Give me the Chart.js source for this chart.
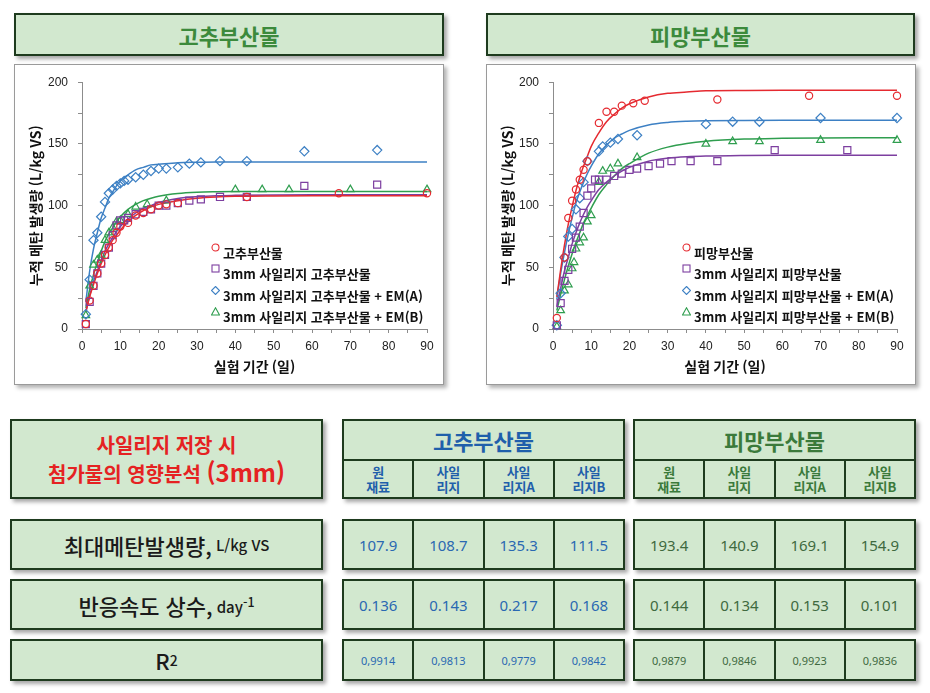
<!DOCTYPE html>
<html lang="ko">
<head>
<meta charset="utf-8">
<script src="https://cdn.jsdelivr.net/npm/chart.js@4.4.1/dist/chart.umd.min.js"></script>
<style>
body{margin:0;width:930px;height:693px;background:#fff;position:relative;overflow:hidden;font-family:"Noto Sans CJK KR","Noto Sans",sans-serif}
.box{position:absolute;box-sizing:border-box;background:#d2e8cf;border:2px solid #1e3b1e;box-shadow:3px 3px 4px rgba(0,0,0,.35)}
.ttl{display:flex;align-items:center;justify-content:center;color:#3c8a3c;font-weight:700;font-size:22px}
.frame{position:absolute;background:#fff;border:1px solid #9a9a9a;box-shadow:3px 3px 4px rgba(0,0,0,.3)}
.frame canvas{position:absolute;left:0;top:0}
.lg{position:absolute;font-weight:700;font-size:13px;color:#111;line-height:21.3px;white-space:nowrap}
.lg div{position:relative;padding-left:13px}
.lg svg{position:absolute;left:1px;top:1px}
.grp{display:flex;flex-direction:column}
.grp .hd{height:38px;border-bottom:2px solid #1e3b1e;display:flex;align-items:center;justify-content:center;font-size:22px;font-weight:700}
.row{display:flex;flex:1}
.row > div{flex:1;display:flex;align-items:center;justify-content:center;text-align:center;border-left:2px solid #1e3b1e}
.row > div:first-child{border-left:none}
.sub{font-size:13px;font-weight:700;line-height:15px}
.lab{display:flex;align-items:center;justify-content:center;color:#1a1a1a;font-size:22px;font-weight:500}
.lab small{font-size:15px;margin-left:4px}
</style>
</head>
<body>
<div class="box ttl" style="left:14px;top:13px;width:430px;height:43px">고추부산물</div>
<div class="box ttl" style="left:486px;top:13px;width:429px;height:43px">피망부산물</div>

<div class="frame" style="left:14px;top:64px;width:428px;height:319px">
  <canvas id="chart1" width="428" height="319"></canvas>
  <div class="lg" id="lg1" style="left:195px;top:177px"></div>
</div>
<div class="frame" style="left:486px;top:64px;width:428px;height:319px">
  <canvas id="chart2" width="428" height="319"></canvas>
  <div class="lg" id="lg2" style="left:194px;top:177px"></div>
</div>

<script>
// 고추부산물 - measured points
const gochuRawDays = [1,2,3,4,5,6,7,8,9,10,12,14,16,18,20,22,25,43,67,90];
const gochuRawVals = [4,23,35,45,53,60,66,72,78,83,86,92,94,97,100,101,102,107,110,110];
const gochuSilDays = [1,2,3,4,5,6,7,8,9,10,11,12,14,16,18,20,22,25,28,31,36,43,58,77];
const gochuSilVals = [4,22,35,45,53,60,66,76,84,88,88,90,93,95,97,100,100,102,104,105,107,107,116,117];
const gochuADays = [1,2,3,4,5,6,7,8,9,10,11,12,14,16,18,20,22,25,28,31,36,43,58,77];
const gochuAVals = [12,40,72,78,91,103,110,113,116,118,120,121,123,125,128,130,130,131,134,135,136,136,144,145];
const gochuBDays = [1,2,3,4,5,6,7,8,9,10,12,14,17,22,40,47,54,70,90];
const gochuBVals = [11,35,52,56,60,72,78,82,87,88,93,99,101,104,113,113,113,113,113];

// 피망부산물 - measured points
const pimangRawDays = [1,3,4,5,6,7,8,9,12,14,16,18,21,24,43,67,90];
const pimangRawVals = [9,58,90,104,113,121,129,136,167,176,176,181,183,185,186,189,189];
const pimangSilDays = [1,2,3,4,5,6,7,8,9,10,11,12,14,16,18,20,22,25,28,31,36,43,58,77];
const pimangSilVals = [3,21,39,48,65,74,83,94,108,114,121,121,121,124,126,129,130,132,134,136,136,136,145,145];
const pimangADays = [1,2,3,4,5,6,7,8,9,12,13,15,17,22,40,47,54,70,90];
const pimangAVals = [3,29,58,75,81,97,106,119,136,144,148,151,154,157,166,168,168,171,171];
const pimangBDays = [1,2,3,4,5,5.5,6,7,8,9,10,12,13,15,17,22,40,47,54,70,90];
const pimangBVals = [2,15,31,36,49,54,65,70,74,87,92,119,128,130,134,139,150,152,152,153,153];

// fitted curves
const fitDays = [1,2,3,4,5,6,7,8,9,10,12,14,16,18,20,25,30,35,40,50,60,70,80,90];
const gochuRawFit = [14,26,36,45,53,60,66,72,76,80,87,92,96,99,101,104,106,107,107.5,107.8,107.9,107.9,107.9,107.9];
const gochuSilFit = [14,27,38,47,55,63,69,74,79,83,89,94,98,100,102.5,105.7,107.2,108,108.3,108.6,108.7,108.7,108.7,108.7];
const gochuAFit = [22,47,65,78,90,98,106,111,116,120,125,129,131,133,133.5,134.7,135.1,135.3,135.3,135.3,135.3,135.3,135.3,135.3];
const gochuBFit = [17,32,44,54,63,71,77,82,87,91,97,101,104,106,107.6,109.8,110.8,111.2,111.4,111.5,111.5,111.5,111.5,111.5];
const pimangRawFit = [26,48,68,85,99,112,123,132,140,148,159,168,174,179,182.5,188,191,192,193,193.3,193.4,193.4,193.4,193.4];
const pimangSilFit = [18,33,47,58,69,78,86,93,99,104,113,119,124,128,131,136,138.4,139.6,140.2,140.7,140.9,140.9,140.9,140.9];
const pimangAFit = [24,45,62,77,90,102,111,119,126,132,142,149,154.5,158,161,165.4,167.4,168.3,168.7,169,169.1,169.1,169.1,169.1];
const pimangBFit = [15,28,40,51,61,70,78,86,92,98,109,117,124,130,134,142.5,147.4,150.4,152.2,153.9,154.5,154.8,154.9,154.9];

const gochuLabels = ['고추부산물','3mm 사일리지 고추부산물','3mm 사일리지 고추부산물 + EM(A)','3mm 사일리지 고추부산물 + EM(B)'];
const pimangLabels = ['피망부산물','3mm 사일리지 피망부산물','3mm 사일리지 피망부산물 + EM(A)','3mm 사일리지 피망부산물 + EM(B)'];

// table values
const groupNames = ['고추부산물','피망부산물'];
const subHeads = [['원','재료'],['사일','리지'],['사일','리지A'],['사일','리지B']];
const maxYield = [['107.9','108.7','135.3','111.5'],['193.4','140.9','169.1','154.9']];
const rateK = [['0.136','0.143','0.217','0.168'],['0.144','0.134','0.153','0.101']];
const rSquared = [['0,9914','0,9813','0,9779','0,9842'],['0,9879','0,9846','0,9923','0,9836']];

const colors = ['#e52a30','#7d3fa0','#3d80c4','#2f9e4f'];
const styles = ['circle','rect','rectRot','triangle'];
const radii = [3.6,5,4.6,4.4];

function pts(days, vals) {
    return days.map((d, i) => ({x: d, y: vals[i]}));
}

function makeChart(id, plotLeft, padRight, points, fits, labels, legendId) {
    var datasets = [];
    for (var i = 0; i < 4; i++) {
        datasets.push({
            label: labels[i],
            data: pts(points[i][0], points[i][1]),
            showLine: false,
            pointStyle: styles[i],
            pointRadius: radii[i],
            pointBorderWidth: 1.2,
            borderColor: colors[i],
            backgroundColor: 'rgba(255,255,255,0)',
            clip: false
        });
    }
    for (var i = 0; i < 4; i++) {
        datasets.push({
            label: labels[i] + ' fit',
            data: pts(fitDays, fits[i]),
            showLine: true,
            pointRadius: 0,
            borderColor: colors[i],
            borderWidth: 1.5,
            cubicInterpolationMode: 'monotone',
            clip: false
        });
    }
    const tickFont = {family: '"Liberation Sans", Arial, sans-serif', size: 12};
    const titleFont = {family: '"Noto Sans CJK KR", sans-serif', size: 14, weight: 'bold'};
    new Chart(document.getElementById(id), {
        type: 'scatter',
        data: {datasets: datasets},
        options: {
            responsive: false,
            animation: false,
            layout: {padding: {top: 16, right: padRight, left: 0, bottom: 0}},
            plugins: {legend: {display: false}, tooltip: {enabled: false}},
            scales: {
                x: {
                    type: 'linear', min: 0, max: 90,
                    afterFit: s => { s.height = 55; },
                    ticks: {stepSize: 5, autoSkip: false, maxRotation: 0, minRotation: 0, color: '#222', font: tickFont, padding: 6,
                        callback: v => (v % 10 === 0 ? v : '')},
                    grid: {drawOnChartArea: false, drawTicks: true, tickLength: 4, color: '#8c8c8c'},
                    border: {color: '#8c8c8c'},
                    title: {display: true, text: '실험 기간 (일)', color: '#111', font: titleFont, padding: {top: 2, bottom: 9}}
                },
                y: {
                    min: 0, max: 200,
                    afterFit: s => { s.width = plotLeft; },
                    ticks: {stepSize: 25, autoSkip: false, color: '#222', font: tickFont, padding: 10,
                        callback: v => (v % 50 === 0 ? v : '')},
                    grid: {drawOnChartArea: false, drawTicks: true, tickLength: 4, color: '#8c8c8c'},
                    border: {color: '#8c8c8c'},
                    title: {display: true, text: '누적 메탄 발생량 (L/kg VS)', color: '#111', font: titleFont, padding: {top: 12, bottom: 0}}
                }
            }
        }
    });

    // legend inside the plot
    const shapes = [
        c => `<circle cx="4.5" cy="4.5" r="3.5" fill="none" stroke="${c}" stroke-width="1.1"/>`,
        c => `<rect x="1" y="1" width="7" height="7" fill="none" stroke="${c}" stroke-width="1.1"/>`,
        c => `<polygon points="4.5,0.5 8.5,4.5 4.5,8.5 0.5,4.5" fill="none" stroke="${c}" stroke-width="1.1"/>`,
        c => `<polygon points="4.5,0.8 8.5,8 0.5,8" fill="none" stroke="${c}" stroke-width="1.1"/>`
    ];
    var html = '';
    for (var i = 0; i < 4; i++) {
        html += `<div><svg width="9" height="9">${shapes[i](colors[i])}</svg>${labels[i]}</div>`;
    }
    document.getElementById(legendId).innerHTML = html;
}

makeChart('chart1', 67, 16,
    [[gochuRawDays, gochuRawVals], [gochuSilDays, gochuSilVals], [gochuADays, gochuAVals], [gochuBDays, gochuBVals]],
    [gochuRawFit, gochuSilFit, gochuAFit, gochuBFit], gochuLabels, 'lg1');
makeChart('chart2', 66, 18,
    [[pimangRawDays, pimangRawVals], [pimangSilDays, pimangSilVals], [pimangADays, pimangAVals], [pimangBDays, pimangBVals]],
    [pimangRawFit, pimangSilFit, pimangAFit, pimangBFit], pimangLabels, 'lg2');

// Table
const groupLeft = [342, 633];
const groupColor = ['#1f5fab', '#3b7a3b'];
const valueColor = ['#2a68b2', '#3f6a3f'];

function box(left, top, w, h, cls) {
    var d = document.createElement('div');
    d.className = 'box ' + (cls || '');
    d.style.left = left + 'px'; d.style.top = top + 'px';
    d.style.width = w + 'px'; d.style.height = h + 'px';
    document.body.appendChild(d);
    return d;
}

var head = box(10, 419, 313, 80, 'lab');
head.style.flexDirection = 'column';
head.style.color = '#e52222';
head.style.fontWeight = '700';
head.style.fontSize = '20px';
head.style.lineHeight = '27px';
head.innerHTML = '<div>사일리지 저장 시</div><div>첨가물의 영향분석 <span style="font-size:24px">(3mm)</span></div>';

for (var g = 0; g < 2; g++) {
    var gb = box(groupLeft[g], 419, 283, 80, 'grp');
    var cells = subHeads.map(s => `<div class="sub">${s[0]}<br>${s[1]}</div>`).join('');
    gb.innerHTML = `<div class="hd" style="color:${groupColor[g]}">${groupNames[g]}</div><div class="row" style="color:${groupColor[g]}">${cells}</div>`;
}

const rowTops = [519, 579, 639];
const rowHeights = [51, 51, 42];
const rowLabels = ['최대메탄발생량,<small>L/kg VS</small>', '반응속도 상수,<small>day<sup>-1</sup></small>', 'R<sup style="font-size:14px">2</sup>'];
const rowValues = [maxYield, rateK, rSquared];
const rowFont = [15, 15, 11];

for (var r = 0; r < 3; r++) {
    var lb = box(10, rowTops[r], 313, rowHeights[r], 'lab');
    lb.innerHTML = rowLabels[r];
    for (var g = 0; g < 2; g++) {
        var vb = box(groupLeft[g], rowTops[r], 283, rowHeights[r], 'grp');
        var cells = rowValues[r][g].map(v => `<div>${v}</div>`).join('');
        vb.innerHTML = `<div class="row" style="color:${valueColor[g]};font-family:'Noto Sans',sans-serif;font-size:${rowFont[r]}px">${cells}</div>`;
    }
}
</script>
</body>
</html>
